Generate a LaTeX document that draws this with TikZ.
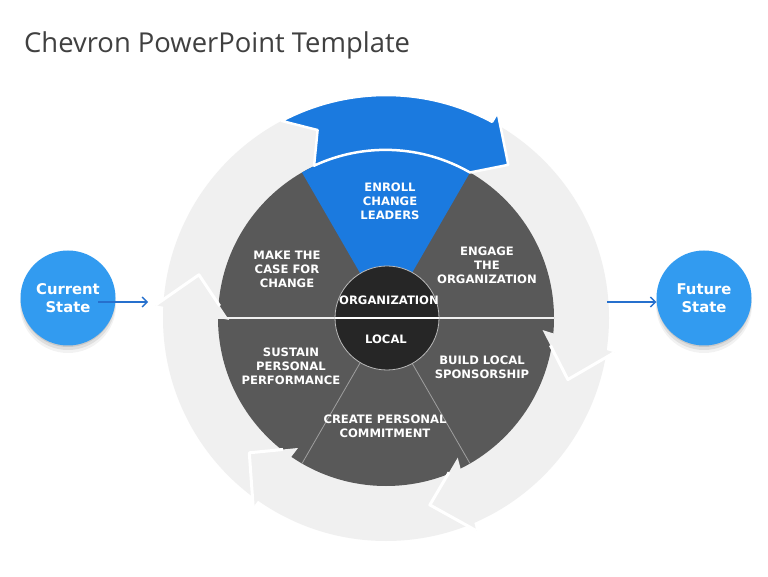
\documentclass[tikz,border=0pt]{standalone}
\usepackage{fontspec}
\setmainfont{DejaVu Sans}
\newfontfamily\titlefont{Open Sans}
\usetikzlibrary{arrows.meta,calc}
\definecolor{ringgray}{RGB}{240,240,240}
\definecolor{segdark}{RGB}{89,89,89}
\definecolor{hubdark}{RGB}{38,38,38}
\definecolor{arrowblue}{RGB}{27,122,223}
\definecolor{stateblue}{RGB}{50,155,240}
\definecolor{connblue}{RGB}{38,112,205}
\definecolor{titlegray}{RGB}{64,64,64}
\begin{document}
\begin{tikzpicture}[x=1pt,y=1pt,
 lab/.style={text=white, font=\fontsize{11.6}{14}\selectfont\bfseries, align=center, inner sep=0},
 statecirc/.style={circle, fill=stateblue, minimum size=95pt, inner sep=0, text=white, font=\fontsize{14.8}{18.5}\selectfont\bfseries, align=center},
 conn/.style={draw=connblue, line width=1.6pt, -{Straight Barb[length=5pt,width=10pt,line width=1.4pt]}},
 headline/.style={draw=white, line width=3pt, line join=round}
]
\fill[white] (0,0) rectangle (768,576);
\useasboundingbox (0,0) rectangle (768,576);

\node[anchor=base west, text=titlegray, font=\titlefont\fontsize{27.4}{31}\selectfont, inner sep=0] (title) at (24,523) {Chevron PowerPoint Template};

\begin{scope}[shift={(386,258)}]
 \fill[ringgray] (0,0) circle (223);
 \fill[segdark] (0,0) circle (168);
 \fill[arrowblue] (0,0) -- (60:168) arc (60:120:168) -- cycle;
 \draw[gray!75, line width=0.8pt] (240:52) -- (240:168) (300:52) -- (300:168);
 \draw[white!88!gray, line width=2pt] (180:168) -- (0:168);
 \foreach \t/\o/\i in {-18.7/-8.6/-4.4, -76.8/-67/-62.8, -135.4/-125.1/-124.1, 167/176.8/180.7} {
   \fill[ringgray] (\o:231) -- (\t:192) -- (\i:157) -- cycle;
   \draw[headline] (\o:231) -- (\t:192) -- ($(\t:192)!0.69!(\i:157)$);
 }
 \filldraw[fill=arrowblue, draw=white, line width=2.5pt, line join=round]
   (117.9:223) arc (117.9:61.6:223) -- (61.5:234) -- (51.4:196) -- (60:168)
   arc (60:115:169) -- (110:200) -- cycle;
 \node[circle, fill=hubdark, draw=gray!55, line width=0.8pt, minimum size=104pt, inner sep=0] (hub) at (1,0) {};
 \draw[white, line width=2pt] (-51,0) -- (53,0);
\end{scope}

\node[lab] (enroll) at (390,375) {ENROLL\\CHANGE\\LEADERS};
\node[lab] (make) at (287,307) {MAKE THE\\CASE FOR\\CHANGE};
\node[lab] (engage) at (487,311) {ENGAGE\\THE\\ORGANIZATION};
\node[lab] (org) at (389,276) {ORGANIZATION};
\node[lab] (local) at (386,237) {LOCAL};
\node[lab] (sustain) at (291,210) {SUSTAIN\\PERSONAL\\PERFORMANCE};
\node[lab] (build) at (482,208.5) {BUILD LOCAL\\SPONSORSHIP};
\node[lab] (create) at (385,149.5) {CREATE PERSONAL\\COMMITMENT};

\fill[black, opacity=0.05] (68,271) circle (48);
\fill[black, opacity=0.08] (68,273.5) circle (47.5);
\fill[black, opacity=0.10] (68,276) circle (47);
\fill[black, opacity=0.05] (704,271) circle (48);
\fill[black, opacity=0.08] (704,273.5) circle (47.5);
\fill[black, opacity=0.10] (704,276) circle (47);
\node[statecirc] (cur) at (68,278) {Current\\State};
\node[statecirc] (fut) at (704,278) {Future\\State};

\coordinate (ringin) at (148,274);
\coordinate (ringout) at (607,274);
\draw[conn] ([xshift=30pt,yshift=-4pt]cur.center) -- (ringin);
\draw[conn] (ringout) -- ([yshift=-4pt]fut.west);
\end{tikzpicture}
\end{document}
